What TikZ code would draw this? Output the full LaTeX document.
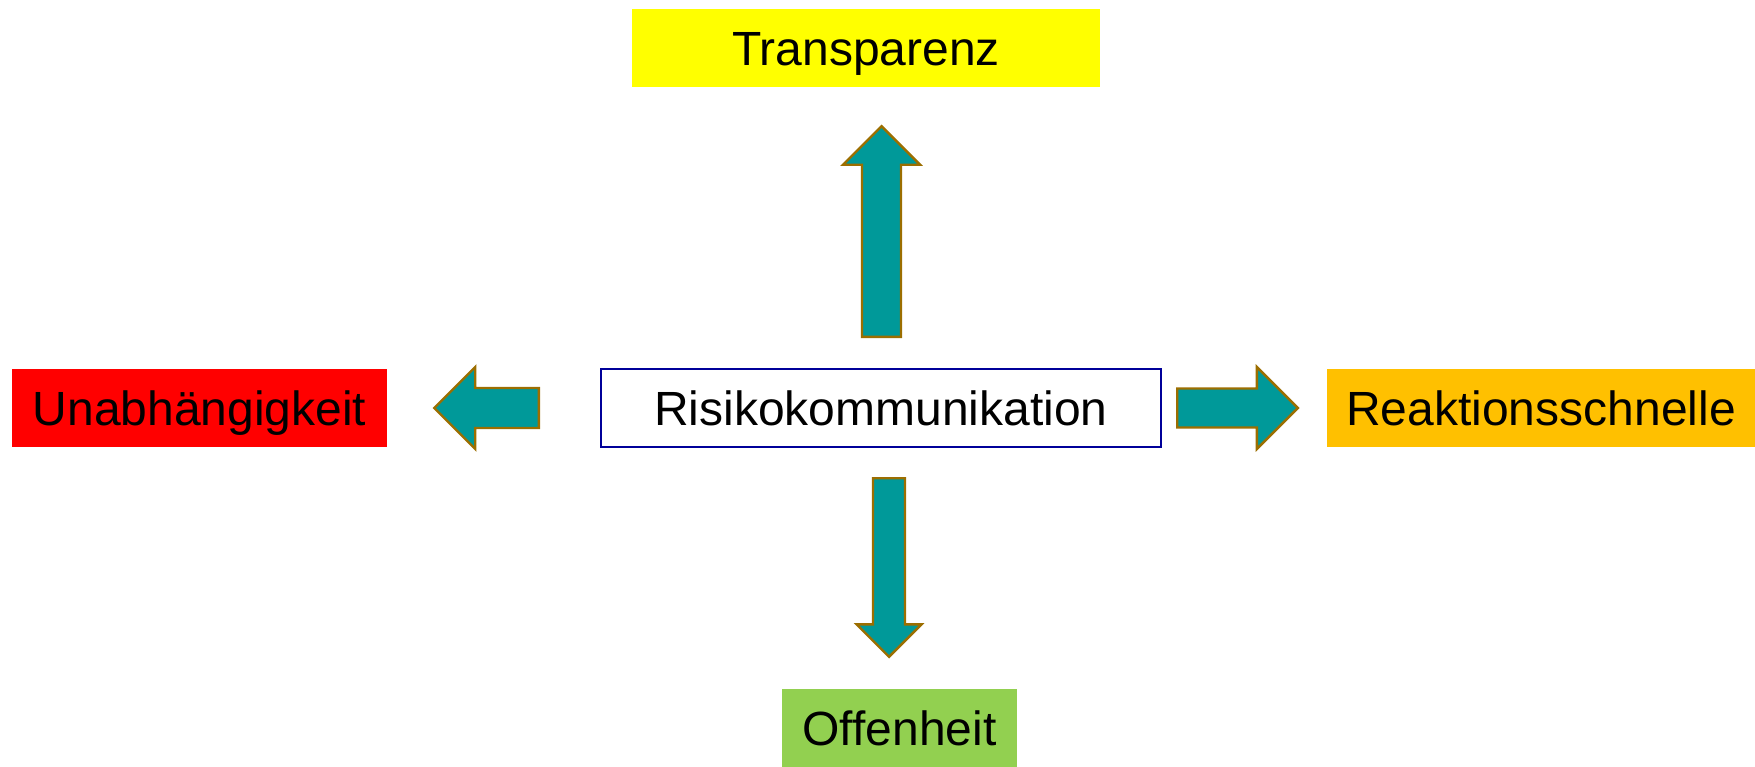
\documentclass[tikz,border=0pt]{standalone}
\usepackage{fontspec}
\setmainfont{Liberation Sans}
\usetikzlibrary{shapes.arrows}
\definecolor{pfeilTeal}{HTML}{009999}
\definecolor{pfeilRand}{HTML}{9C6E00}
\definecolor{rahmenBlau}{HTML}{000099}
\definecolor{feldGelb}{HTML}{FFFF00}
\definecolor{feldRot}{HTML}{FF0000}
\definecolor{feldOrange}{HTML}{FFC000}
\definecolor{feldGruen}{HTML}{92D050}
\newcommand{\feldHoehe}{39pt}
\newcommand{\feldSchrift}{\fontsize{24}{28}\selectfont}

\begin{document}
\begin{tikzpicture}[x=0.5pt, y=-0.5pt,
		feld/.style={rectangle, inner sep=0pt, minimum height=\feldHoehe, text height=17.2pt, text depth=0pt, font=\feldSchrift},
		pfeil/.style={single arrow, draw=pfeilRand, fill=pfeilTeal, line width=1.2pt, inner xsep=0pt, minimum width=0pt, anchor=tail}]
		\useasboundingbox (0,0) rectangle (1755,766);
		% Mitte
		\node[feld, draw=rahmenBlau, line width=1pt, fill=white, minimum width=280pt] (risiko) at (881,408) {Risikokommunikation};
		% die vier Ziele
		\node[feld, fill=feldGelb, minimum width=234pt] (transparenz) at (866,48) {Transparenz};
		\node[feld, fill=feldRot, minimum width=187.5pt] (unabhaengig) at (199.5,408) {Unabhängigkeit};
		\node[feld, fill=feldOrange, minimum width=214pt] (reaktion) at (1541,408) {Reaktionsschnelle};
		\node[feld, fill=feldGruen, minimum width=117.5pt] (offenheit) at (899.5,728) {Offenheit};
		% Pfeile
		\node[pfeil, rotate=90, inner ysep=9.15pt, single arrow head extend=9.5pt, minimum height=105.3pt] (pfeilOben) at (881.5,338) {};
		\node[pfeil, rotate=-90, inner ysep=7.4pt, single arrow head extend=8.25pt, minimum height=89.3pt] (pfeilUnten) at (889,477) {};
		\node[pfeil, rotate=180, inner ysep=9.4pt, single arrow head extend=10.5pt, minimum height=52.3pt] (pfeilLinks) at (540,408) {};
		\node[pfeil, inner ysep=9.15pt, single arrow head extend=10.75pt, minimum height=60.3pt] (pfeilRechts) at (1176,408) {};
	\end{tikzpicture}
\end{document}
